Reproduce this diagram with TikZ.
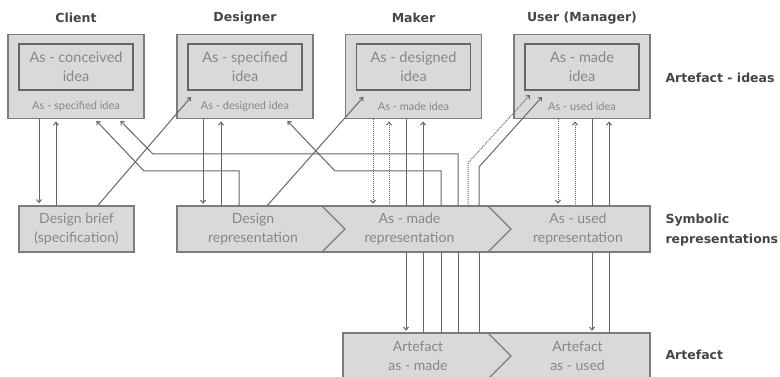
\documentclass[tikz,border=0pt]{standalone}
\usepackage{fontspec}
\setmainfont{Lato}
\newfontfamily\headfont{DejaVu Sans}
\usetikzlibrary{arrows.meta}

\definecolor{boxfill}{HTML}{D9D9D9}
\definecolor{boxline}{HTML}{7C7C7C}
\definecolor{wire}{HTML}{666666}
\definecolor{softtext}{HTML}{878787}
\definecolor{headtext}{HTML}{464646}

\tikzset{
  ideabox/.style={draw=boxline, line width=1.4pt, fill=boxfill,
    minimum width=136pt, minimum height=84.5pt, inner sep=0pt},
  innerbox/.style={draw=wire, line width=1.3pt, minimum width=114pt,
    minimum height=46pt, inner sep=0pt, align=center, text=softtext,
    font=\fontsize{14.5}{19}\selectfont},
  sublabel/.style={text=softtext, font=\fontsize{11}{12}\selectfont},
  strip/.style={draw=boxline, line width=1.4pt, fill=boxfill},
  striptext/.style={minimum height=46pt, inner sep=0pt, align=center,
    text=softtext, font=\fontsize{14}{19}\selectfont},
  head/.style={text=headtext, font=\headfont\fontsize{12.5}{20}\selectfont\bfseries},
  link/.style={draw=wire, line width=1pt},
  dotlink/.style={link, densely dotted},
  tip/.style={-{Straight Barb[length=3pt,width=5pt]}, shorten >=2pt}
}

\begin{document}
\begin{tikzpicture}[x=1pt, y=-1pt]

    % page size of the reference
    \useasboundingbox (0,0) rectangle (780,377);

    % Column headers
    \node[head] (hclient) at (76,18) {Client};
    \node[head] (hdesigner) at (245,18) {Designer};
    \node[head] (hmaker) at (413.5,18) {Maker};
    \node[head] (huser) at (582,18) {User (Manager)};

    % Row labels on the right
    \node[head, anchor=west] (rideas) at (662,78) {Artefact - ideas};
    \node[head, anchor=west, align=left] (rsymbolic) at (662,230) {Symbolic\\representations};
    \node[head, anchor=west] (rartefact) at (662,355) {Artefact};

    % The four idea boxes, each with an inner box and a small label
    \node[ideabox] (client) at (76,76.5) {};
    \node[innerbox] (clientidea) at (76,67) {As - conceived\\idea};
    \node[sublabel] (clientsub) at (76,106.5) {As - specified idea};

    \node[ideabox] (designer) at (245,76.5) {};
    \node[innerbox] (designeridea) at (245,67) {As - specified\\idea};
    \node[sublabel] (designersub) at (245,106.5) {As - designed idea};

    \node[ideabox] (maker) at (413.5,76.5) {};
    \node[innerbox] (makeridea) at (413.5,67) {As - designed\\idea};
    \node[sublabel] (makersub) at (413.5,106.5) {As - made idea};

    \node[ideabox] (user) at (582,76.5) {};
    \node[innerbox] (useridea) at (582,67) {As - made\\idea};
    \node[sublabel] (usersub) at (582,106.5) {As - used idea};

    % Design brief
    \node[striptext, strip, minimum width=115pt] (brief) at (76.5,229) {Design brief\\(specification)};

    % Strip of symbolic representations with its two chevrons
    \draw[strip] (177,206) rectangle (650,252);
    \draw[draw=boxline, line width=1.4pt] (322,206) -- (345,229) -- (322,252);
    \draw[draw=boxline, line width=1.4pt] (488,206) -- (511,229) -- (488,252);
    \node[striptext] (rep1) at (253,229) {Design\\representation};
    \node[striptext] (rep2) at (409.5,229) {As - made\\representation};
    \node[striptext] (rep3) at (578,229) {As - used\\representation};

    % Strip of artefacts
    \draw[strip] (343,333) rectangle (650,379);
    \draw[draw=boxline, line width=1.4pt] (488,333) -- (511,356) -- (488,379);
    \node[striptext] (art1) at (418,356) {Artefact\\as - made};
    \node[striptext] (art2) at (577.5,356) {Artefact\\as - used};

    % Client and design brief
    \draw[link, tip] (client.south -| 39,0) -- (brief.north -| 39,0);
    \draw[link, tip] (brief.north -| 56,0) -- (client.south -| 56,0);
    \draw[link, tip] (brief.north -| 98,0) -- ([shift={(16,-24)}]designer.south west);

    % Designer and design representation
    \draw[link, tip] (designer.south -| 203,0) -- (rep1.north -| 203,0);
    \draw[link, tip] (rep1.north -| 221,0) -- (designer.south -| 221,0);
    \draw[link, tip] (rep1.north -| 239,0) |- (144,171) -- (client.south -| 95,0);
    \draw[link, tip] (rep1.north -| 267,0) -- ([shift={(20,-24)}]maker.south west);

    % Maker and as-made representation
    \draw[dotlink, tip] (maker.south -| 373,0) -- (rep2.north -| 373,0);
    \draw[dotlink, tip] (rep2.north -| 389,0) -- (maker.south -| 389,0);
    \draw[link] (maker.south -| 406,0) -- (rep2.north -| 406,0);
    \draw[link, tip] (rep2.south -| 406,0) -- (art1.north -| 406,0);
    \draw[link] (art1.north -| 423,0) -- (rep2.south -| 423,0);
    \draw[link, tip] (rep2.north -| 423,0) -- (maker.south -| 423,0);

    % Artefact as-made back to designer and client
    \draw[link] (art1.north -| 441,0) -- (rep2.south -| 441,0);
    \draw[link, tip] (rep2.north -| 441,0) |- (335,171) -- (designer.south -| 286,0);
    \draw[link] (art1.north -| 458,0) -- (rep2.south -| 458,0);
    \draw[link, tip] (rep2.north -| 458,0) |- (153,154) -- (client.south -| 119,0);

    % As-made representation and artefact on to the user
    \draw[dotlink, tip] (rep2.north -| 468,0) -- (468,163) -- ([shift={(18,-26)}]user.south west);
    \draw[link] (art1.north -| 479,0) -- (rep2.south -| 479,0);
    \draw[link, tip] (rep2.north -| 479,0) -- (479,167) -- ([shift={(30,-24)}]user.south west);

    % User and as-used representation
    \draw[dotlink, tip] (user.south -| 558,0) -- (rep3.north -| 558,0);
    \draw[dotlink, tip] (rep3.north -| 575,0) -- (user.south -| 575,0);
    \draw[link] (user.south -| 592,0) -- (rep3.north -| 592,0);
    \draw[link, tip] (rep3.south -| 592,0) -- (art2.north -| 592,0);
    \draw[link] (art2.north -| 609,0) -- (rep3.south -| 609,0);
    \draw[link, tip] (rep3.north -| 609,0) -- (user.south -| 609,0);

\end{tikzpicture}
\end{document}
